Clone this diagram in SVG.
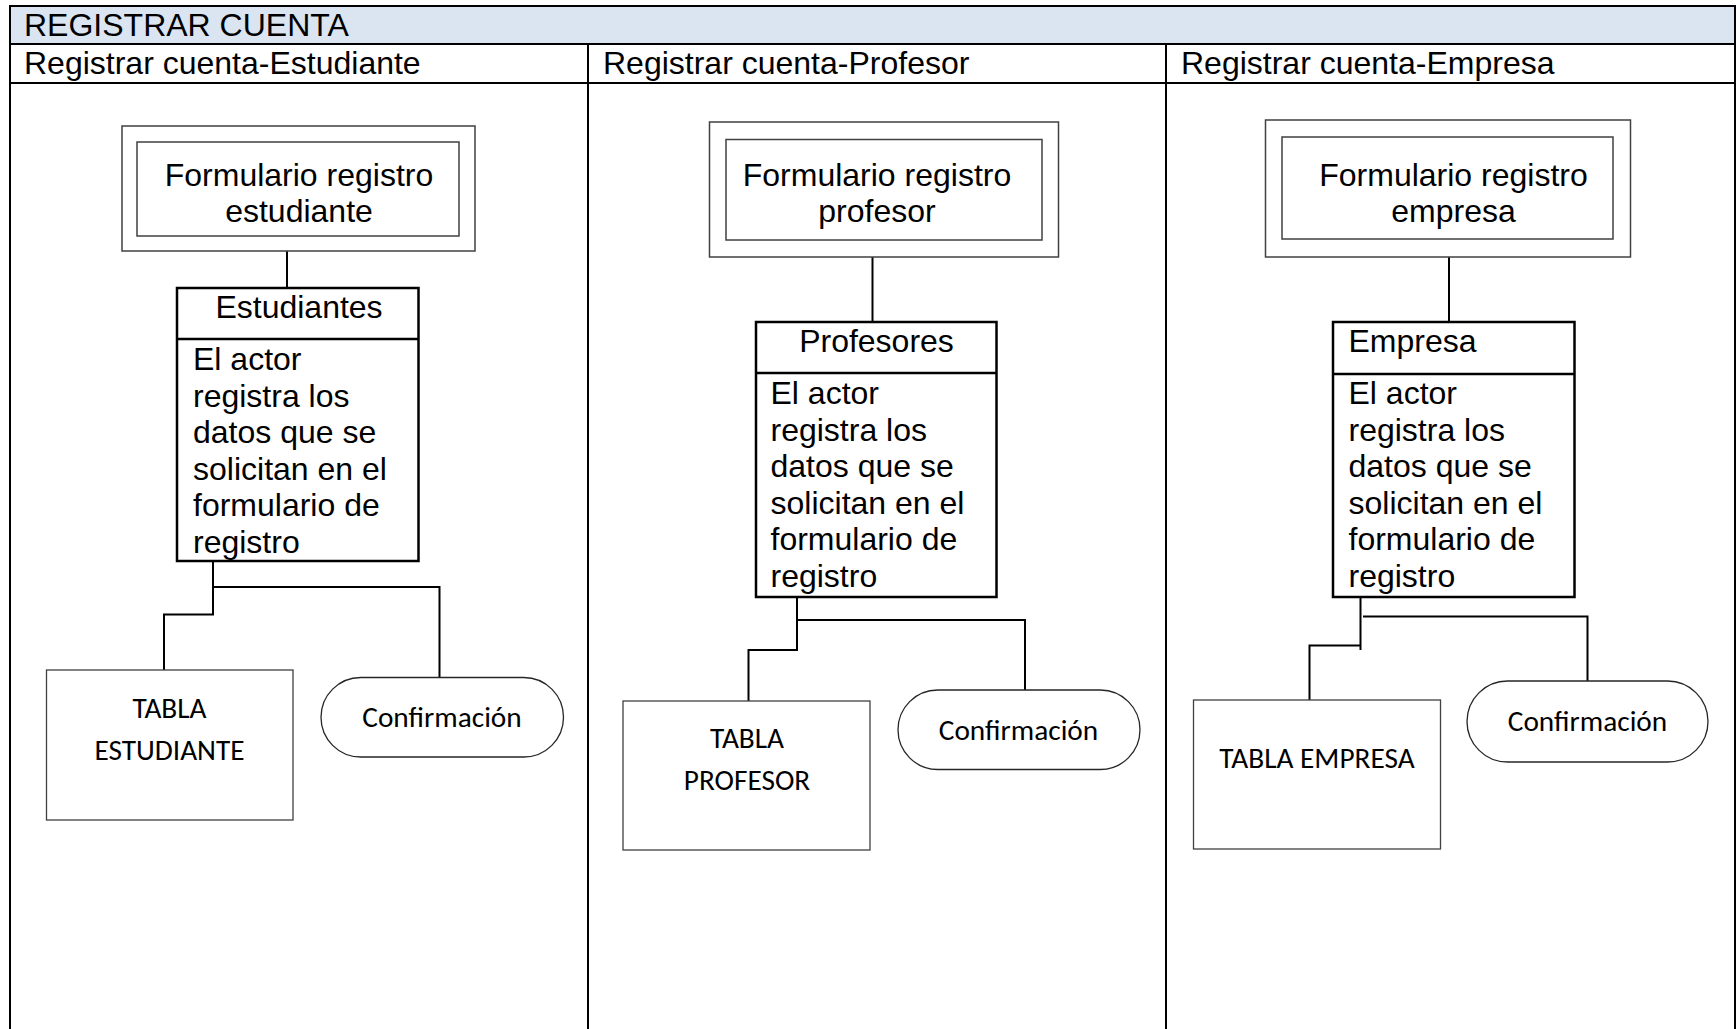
<svg xmlns="http://www.w3.org/2000/svg" width="1736" height="1029" viewBox="0 0 1736 1029">
<style>
  .grid{stroke:#000;stroke-width:2;fill:none}
  .hdr{font-family:"Liberation Sans",Arial,sans-serif;font-size:32px;fill:#000}
  .t{font-family:"Liberation Sans",Arial,sans-serif;font-size:32px;fill:#000}
  .c{font-family:Carlito,Calibri,Lato,sans-serif;font-size:29.3px;fill:#000}
  .form{fill:#fff;stroke:#404040;stroke-width:1.5}
  .cls{fill:#fff;stroke:#000;stroke-width:2.5}
  .tbl{fill:#fff;stroke:#404040;stroke-width:1.3}
  .conf{fill:#fff;stroke:#262626;stroke-width:1.3}
  .conn{fill:none;stroke:#000;stroke-width:2}
</style>
<rect x="0" y="0" width="1736" height="1029" fill="#fff"/>
<g id="lanes">
  <rect x="10" y="6" width="1725" height="38" fill="#dbe5f1"/>
  <path class="grid" d="M10 1029 V6 H1735 V1029 M10 44 H1735 M10 83 H1735 M588 44 V1029 M1166 44 V1029"/>
  <text class="hdr" x="24" y="36">REGISTRAR CUENTA</text>
  <text class="hdr" x="24" y="74">Registrar cuenta-Estudiante</text>
  <text class="hdr" x="603" y="74">Registrar cuenta-Profesor</text>
  <text class="hdr" x="1181" y="74">Registrar cuenta-Empresa</text>
</g>
<g id="connectors">
  <path class="conn" d="M287 251 V288"/>
  <path class="conn" d="M213 561 V587 H439.5 V677.5 M213 587 V614.5 H164 V670"/>
  <path class="conn" d="M872.5 257 V322"/>
  <path class="conn" d="M797 597 V620 H1025 V690 M797 620 V650 H748.5 V701"/>
  <path class="conn" d="M1449 257 V322"/>
  <path class="conn" d="M1360.5 597 V650 M1363 616.5 H1587.5 V681 M1360.5 645.5 H1309.5 V700"/>
</g>
<g id="form-estudiante">
  <rect class="form" x="122" y="126" width="353" height="125"/>
  <rect class="form" x="137" y="142" width="322" height="94"/>
  <text class="t" x="299" y="186" text-anchor="middle">Formulario registro</text>
  <text class="t" x="299" y="222" text-anchor="middle">estudiante</text>
</g>
<g id="estudiantes">
  <rect class="cls" x="177" y="288" width="241.5" height="273"/>
  <line class="cls" x1="177" y1="339" x2="418.5" y2="339"/>
  <text class="t" x="299" y="318" text-anchor="middle">Estudiantes</text>
  <text class="t" x="193" y="370">El actor</text>
  <text class="t" x="193" y="406.5">registra los</text>
  <text class="t" x="193" y="443">datos que se</text>
  <text class="t" x="193" y="479.5">solicitan en el</text>
  <text class="t" x="193" y="516">formulario de</text>
  <text class="t" x="193" y="552.5">registro</text>
</g>
<g id="tabla-estudiante">
  <rect class="tbl" x="46.5" y="670" width="246.5" height="150"/>
  <text class="c" x="169.5" y="717.5" text-anchor="middle">TABLA</text>
  <text class="c" x="169.5" y="759.5" text-anchor="middle">ESTUDIANTE</text>
</g>
<g id="confirmacion-estudiante">
  <rect class="conf" x="321" y="677.5" width="242.5" height="79.5" rx="39.75"/>
  <text class="c" x="442" y="727" text-anchor="middle">Confirmación</text>
</g>
<g id="form-profesor">
  <rect class="form" x="709.5" y="122" width="349" height="135"/>
  <rect class="form" x="726" y="139.5" width="316" height="100.5"/>
  <text class="t" x="877" y="186" text-anchor="middle">Formulario registro</text>
  <text class="t" x="877" y="222" text-anchor="middle">profesor</text>
</g>
<g id="profesores">
  <rect class="cls" x="756" y="322" width="240.5" height="275"/>
  <line class="cls" x1="756" y1="373" x2="996.5" y2="373"/>
  <text class="t" x="876.5" y="352" text-anchor="middle">Profesores</text>
  <text class="t" x="770.5" y="404">El actor</text>
  <text class="t" x="770.5" y="440.5">registra los</text>
  <text class="t" x="770.5" y="477">datos que se</text>
  <text class="t" x="770.5" y="513.5">solicitan en el</text>
  <text class="t" x="770.5" y="550">formulario de</text>
  <text class="t" x="770.5" y="586.5">registro</text>
</g>
<g id="tabla-profesor">
  <rect class="tbl" x="623" y="701" width="247" height="149"/>
  <text class="c" x="747" y="748" text-anchor="middle">TABLA</text>
  <text class="c" x="747" y="790" text-anchor="middle">PROFESOR</text>
</g>
<g id="confirmacion-profesor">
  <rect class="conf" x="898" y="690" width="242" height="79.5" rx="39.75"/>
  <text class="c" x="1018.5" y="739.5" text-anchor="middle">Confirmación</text>
</g>
<g id="form-empresa">
  <rect class="form" x="1265.5" y="120" width="365" height="137"/>
  <rect class="form" x="1282" y="137" width="331" height="102"/>
  <text class="t" x="1453.5" y="186" text-anchor="middle">Formulario registro</text>
  <text class="t" x="1453.5" y="222" text-anchor="middle">empresa</text>
</g>
<g id="empresa">
  <rect class="cls" x="1333" y="322" width="241.5" height="275"/>
  <line class="cls" x1="1333" y1="374" x2="1574.5" y2="374"/>
  <text class="t" x="1348.5" y="352">Empresa</text>
  <text class="t" x="1348.5" y="404">El actor</text>
  <text class="t" x="1348.5" y="440.5">registra los</text>
  <text class="t" x="1348.5" y="477">datos que se</text>
  <text class="t" x="1348.5" y="513.5">solicitan en el</text>
  <text class="t" x="1348.5" y="550">formulario de</text>
  <text class="t" x="1348.5" y="586.5">registro</text>
</g>
<g id="tabla-empresa">
  <rect class="tbl" x="1193.5" y="700" width="247" height="149"/>
  <text class="c" x="1317" y="768" text-anchor="middle">TABLA EMPRESA</text>
</g>
<g id="confirmacion-empresa">
  <rect class="conf" x="1467" y="681" width="241" height="81" rx="40.5"/>
  <text class="c" x="1587.5" y="731" text-anchor="middle">Confirmación</text>
</g>
</svg>
